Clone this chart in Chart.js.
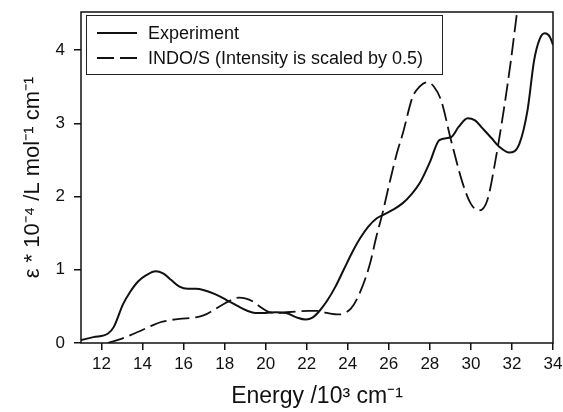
<!DOCTYPE html>
<html lang="en">
<head>
  <meta charset="UTF-8">
  <title>Absorption spectrum</title>
  <script src="https://cdn.jsdelivr.net/npm/chart.js"></script>
  <style>
    html, body { margin: 0; padding: 0; background: #fff; }
    #wrap { position: relative; width: 563px; height: 412px; }
  </style>
</head>
<body>
  <div id="wrap"><canvas id="chartCanvas"></canvas></div>
  <script>
    // energy in 10^3 cm-1, epsilon * 10^-4
    const expX = [11.0, 11.6, 12.32, 12.6, 13.05, 13.4, 13.78, 14.2, 14.64, 15.0, 15.4, 15.8, 16.2, 16.6, 17.0, 17.5, 18.07, 18.6, 19.1, 19.5, 20.0, 20.5, 21.0, 21.5, 21.95, 22.3, 22.6, 23.0, 23.4, 23.8, 24.2, 24.6, 25.0, 25.4, 25.73, 26.2, 26.68, 27.1, 27.5, 28.0, 28.46, 29.03, 29.4, 29.84, 30.2, 30.57, 31.0, 31.38, 31.87, 32.36, 32.76, 33.08, 33.35, 33.6, 33.85, 34.0];
    const expY = [0.04, 0.08, 0.13, 0.22, 0.53, 0.70, 0.84, 0.93, 0.98, 0.95, 0.86, 0.77, 0.74, 0.74, 0.72, 0.67, 0.59, 0.51, 0.44, 0.41, 0.41, 0.42, 0.41, 0.35, 0.32, 0.35, 0.43, 0.58, 0.77, 1.00, 1.23, 1.43, 1.59, 1.70, 1.75, 1.82, 1.91, 2.03, 2.18, 2.47, 2.77, 2.81, 2.95, 3.07, 3.04, 2.93, 2.80, 2.68, 2.60, 2.72, 3.18, 3.86, 4.15, 4.23, 4.18, 4.07];

    const indoX = [12.3, 13.0, 13.76, 14.4, 14.83, 15.3, 15.8, 16.6, 17.0, 17.4, 18.0, 18.7, 19.0, 19.36, 19.8, 20.17, 20.6, 21.0, 21.5, 22.1, 22.5, 23.0, 23.57, 24.15, 24.5, 25.05, 25.4, 25.7, 26.03, 26.4, 26.68, 27.16, 27.5, 27.85, 28.2, 28.55, 29.03, 29.6, 30.0, 30.4, 30.8, 31.2, 31.6, 31.95, 32.25, 32.5];
    const indoY = [0.0, 0.06, 0.15, 0.23, 0.28, 0.31, 0.33, 0.35, 0.38, 0.44, 0.54, 0.62, 0.61, 0.57, 0.48, 0.42, 0.41, 0.42, 0.43, 0.44, 0.44, 0.41, 0.39, 0.47, 0.63, 1.05, 1.46, 1.78, 2.18, 2.60, 2.86, 3.36, 3.50, 3.56, 3.50, 3.31, 2.77, 2.18, 1.90, 1.81, 1.95, 2.50, 3.18, 3.86, 4.52, 5.0];

    const xTickValues = [12, 14, 16, 18, 20, 22, 24, 26, 28, 30, 32, 34];
    const yTickValues = [0, 1, 2, 3, 4];

    const seriesLabels = ['Experiment', 'INDO/S (Intensity is scaled by 0.5)'];

    const toPoints = (xs, ys) => xs.map((x, i) => ({ x: x, y: ys[i] }));

    // box around the plot area
    const frame = {
      id: 'frame',
      afterDraw(chart) {
        const a = chart.chartArea;
        const c = chart.ctx;
        c.save();
        c.strokeStyle = '#111';
        c.lineWidth = 1.5;
        c.strokeRect(a.left, a.top, a.right - a.left, a.bottom - a.top);
        c.restore();
      }
    };

    // legend drawn inside the plot, top left
    const boxLegend = {
      id: 'boxLegend',
      afterDatasetsDraw(chart) {
        const c = chart.ctx;
        const a = chart.chartArea;
        const x0 = a.left + 5, y0 = a.top + 3, w = 356, h = 59;
        c.save();
        c.fillStyle = '#fff';
        c.fillRect(x0, y0, w, h);
        c.strokeStyle = '#222';
        c.lineWidth = 1;
        c.strokeRect(x0 + 0.5, y0 + 0.5, w, h);
        c.font = '18px "Liberation Sans", Arial, sans-serif';
        c.textBaseline = 'middle';
        chart.data.datasets.forEach((ds, i) => {
          const y = y0 + 18 + i * 25;
          c.strokeStyle = '#111';
          c.lineWidth = 2;
          c.setLineDash(ds.borderDash || []);
          c.beginPath();
          c.moveTo(x0 + 11, y);
          c.lineTo(x0 + 51, y);
          c.stroke();
          c.setLineDash([]);
          c.fillStyle = '#111';
          c.fillText(ds.label, x0 + 62, y + 1);
        });
        c.restore();
      }
    };

    const tickFont = { family: '"Liberation Sans", Arial, sans-serif', size: 17 };
    const titleFont = { family: '"Liberation Sans", Arial, sans-serif', size: 22 };

    new Chart(document.getElementById('chartCanvas'), {
      type: 'line',
      data: {
        datasets: [
          {
            label: seriesLabels[0],
            data: toPoints(expX, expY),
            borderColor: '#111',
            borderWidth: 2,
            pointRadius: 0,
            fill: false,
            cubicInterpolationMode: 'monotone'
          },
          {
            label: seriesLabels[1],
            data: toPoints(indoX, indoY),
            borderColor: '#111',
            borderWidth: 1.8,
            borderDash: [17, 6],
            pointRadius: 0,
            fill: false,
            cubicInterpolationMode: 'monotone'
          }
        ]
      },
      options: {
        responsive: true,
        maintainAspectRatio: false,
        animation: false,
        layout: { padding: { top: 12, right: 10, left: 0, bottom: 0 } },
        plugins: {
          legend: { display: false },
          tooltip: { enabled: false }
        },
        scales: {
          x: {
            type: 'linear',
            min: 11,
            max: 34,
            afterBuildTicks: axis => { axis.ticks = xTickValues.map(v => ({ value: v })); },
            afterFit: axis => { axis.height = 69; axis.paddingLeft = 0; axis.paddingRight = 0; },
            grid: { display: true, drawOnChartArea: false, drawTicks: true, tickLength: 7, color: '#111', lineWidth: 1.5 },
            border: { display: false },
            ticks: { color: '#111', font: tickFont, padding: 4, maxRotation: 0 },
            title: { display: true, text: 'Energy /10³ cm⁻¹', color: '#111', font: { family: titleFont.family, size: 23 }, padding: { top: 0, bottom: 2 } }
          },
          y: {
            type: 'linear',
            min: 0,
            max: 4.52,
            afterBuildTicks: axis => { axis.ticks = yTickValues.map(v => ({ value: v })); },
            afterFit: axis => { axis.width = 81; axis.paddingTop = 0; axis.paddingBottom = 0; },
            grid: { display: true, drawOnChartArea: false, drawTicks: true, tickLength: 7, color: '#111', lineWidth: 1.5 },
            border: { display: false },
            ticks: { color: '#111', font: tickFont, padding: 9 },
            title: { display: true, text: 'ε * 10⁻⁴ /L mol⁻¹ cm⁻¹', color: '#111', font: titleFont, padding: { top: 20, bottom: 0 } }
          }
        }
      },
      plugins: [frame, boxLegend]
    });
  </script>
</body>
</html>
